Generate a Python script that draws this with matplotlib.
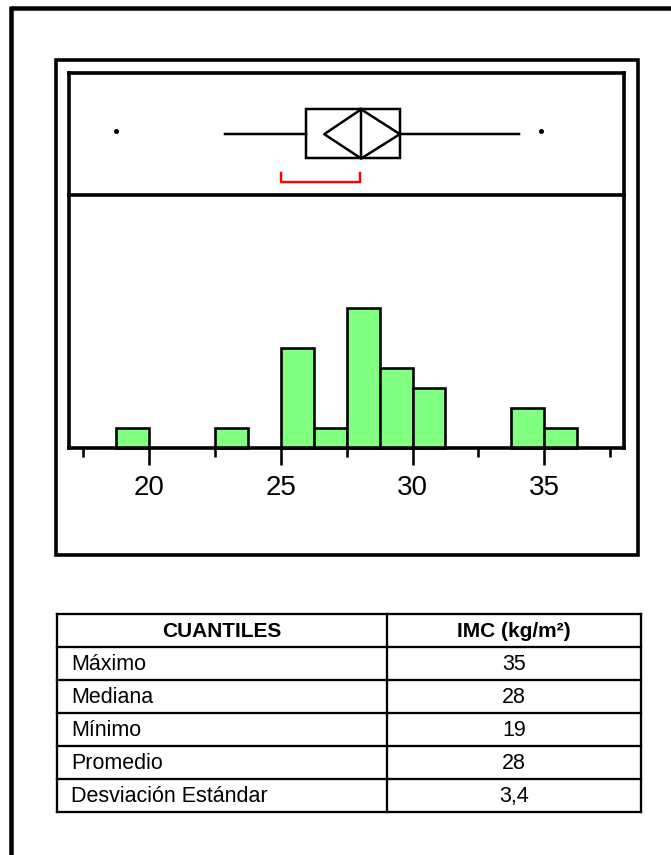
import matplotlib
matplotlib.use("Agg")
import matplotlib.pyplot as plt
from matplotlib.patches import Rectangle

plt.rcParams['font.family'] = ['Liberation Sans', 'DejaVu Sans']

# ---------------- data ----------------
bin_starts = [18.75, 22.5, 25.0, 26.25, 27.5, 28.75, 30.0, 33.75, 35.0]
bin_counts = [1, 1, 5, 1, 7, 4, 3, 2, 1]
bin_width = 1.25

q1, median, q3 = 25.95, 28.05, 29.52
whisker_low, whisker_high = 22.88, 34.03
outliers = [18.76, 34.89]
mean_value, ci_low, ci_high = 28.05, 26.65, 29.52
shortest_half = (25.0, 28.0)

major_ticks = [20, 25, 30, 35]
minor_ticks = [17.5, 22.5, 27.5, 32.5, 37.5]

table_header = ["CUANTILES", "IMC (kg/m²)"]
table_labels = ["Máximo", "Mediana", "Mínimo", "Promedio", "Desviación Estándar"]
table_values = ["35", "28", "19", "28", "3,4"]

# ---------------- layout ----------------
W, H = 671, 855
DPI = 100
PX = 72.0 / DPI  # points per pixel

fig = plt.figure(figsize=(W / DPI, H / DPI), dpi=DPI)
fig.patch.set_facecolor("white")

def fig_rect(x0, y0, x1, y1):
    return [x0 / W, 1 - y1 / H, (x1 - x0) / W, (y1 - y0) / H]

in_left, in_right = 68.5, 624.3
in_top, divider, baseline = 73.3, 195.0, 448.3
xlim = (16.94, 38.04)
frame_lw = 3.6 * PX

# overlay for frames and table
ov = fig.add_axes([0, 0, 1, 1])
ov.set_xlim(0, W)
ov.set_ylim(H, 0)
ov.axis("off")

# image outer frame (top + left)
ov.plot([10.5, W + 5], [8, 8], color="black", lw=4.5 * PX, solid_capstyle="butt")
ov.plot([10.5, 10.5], [6, H + 5], color="black", lw=4.5 * PX, solid_capstyle="butt")
# panel frame
ov.add_patch(Rectangle((55.5, 60), 637.7 - 55.5, 555 - 60, fill=False,
                       lw=frame_lw, edgecolor="black"))

# ---------------- box plot ----------------
axb = fig.add_axes(fig_rect(in_left, in_top, in_right, divider))
axb.set_xlim(*xlim)
axb.set_ylim(0, 1)
axb.set_xticks([])
axb.set_yticks([])
for s in axb.spines.values():
    s.set_linewidth(frame_lw)
lw_b = 2.5 * PX
yc, ybot, ytop = 0.50, 0.30, 0.704
axb.plot([whisker_low, q1], [yc, yc], color="black", lw=lw_b)
axb.plot([q3, whisker_high], [yc, yc], color="black", lw=lw_b)
axb.add_patch(Rectangle((q1, ybot), q3 - q1, ytop - ybot, fill=False,
                        edgecolor="black", lw=lw_b))
axb.plot([median, median], [ybot, ytop], color="black", lw=lw_b)
axb.plot([mean_value, ci_low, mean_value, ci_high, mean_value],
         [ytop, yc, ybot, yc, ytop], color="black", lw=lw_b)
axb.plot(outliers, [0.522] * len(outliers), "o", color="black", ms=5 * PX, mew=0)
axb.plot([shortest_half[0], shortest_half[0], shortest_half[1], shortest_half[1]],
         [0.181, 0.104, 0.104, 0.181], color="#ff0000", lw=2.4 * PX)

# ---------------- histogram ----------------
axh = fig.add_axes(fig_rect(in_left, divider, in_right, baseline))
axh.patch.set_visible(False)
axh.bar(bin_starts, bin_counts, width=bin_width, align="edge",
        color="#80ff80", edgecolor="black", lw=2.6 * PX, zorder=3, clip_on=False)
axh.set_xlim(*xlim)
axh.set_ylim(0, 12.67)
axh.set_yticks([])
axh.spines["top"].set_visible(False)
for s in ["left", "right", "bottom"]:
    axh.spines[s].set_linewidth(frame_lw)
axh.spines["bottom"].set_zorder(4)
axh.set_xticks(major_ticks)
axh.set_xticklabels([str(t) for t in major_ticks])
axh.set_xticks(minor_ticks, minor=True)
axh.tick_params(axis="x", which="major", length=17 * PX, width=2.6 * PX,
                labelsize=20, pad=7)
axh.tick_params(axis="x", which="minor", length=9 * PX, width=2.6 * PX)

# ---------------- table ----------------
tx0, txd, tx1 = 57, 387, 641
ty0, row_h = 614, 33
n_rows = len(table_labels) + 1
tlw = 2.3 * PX
for i in range(n_rows + 1):
    y = ty0 + i * row_h
    ov.plot([tx0, tx1], [y, y], color="black", lw=tlw, solid_capstyle="projecting")
for x in (tx0, txd, tx1):
    ov.plot([x, x], [ty0, ty0 + n_rows * row_h], color="black", lw=tlw,
            solid_capstyle="projecting")

fs = 15.5
ov.text((tx0 + txd) / 2, ty0 + row_h / 2 + 1, table_header[0], ha="center", va="center",
        fontsize=15, fontweight="bold")
ov.text((txd + tx1) / 2, ty0 + row_h / 2 + 1, table_header[1], ha="center", va="center",
        fontsize=15, fontweight="bold")
for i, (lab, val) in enumerate(zip(table_labels, table_values)):
    yy = ty0 + (i + 1) * row_h + row_h / 2 + 1
    ov.text(tx0 + 14, yy, lab, ha="left", va="center", fontsize=fs)
    ov.text((txd + tx1) / 2, yy, val, ha="center", va="center", fontsize=fs)

fig.savefig("out.png", dpi=DPI, facecolor="white")
